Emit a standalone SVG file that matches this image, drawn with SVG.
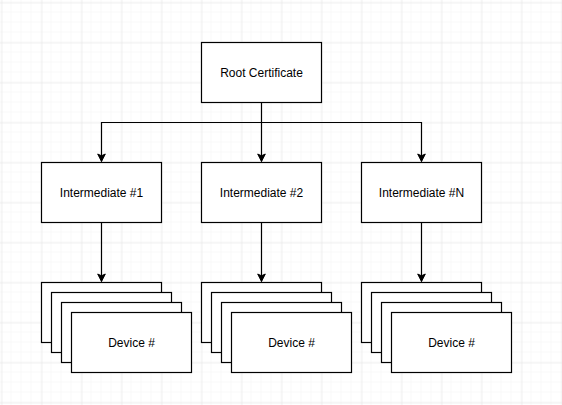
<svg xmlns="http://www.w3.org/2000/svg" width="562" height="405" viewBox="0 0 562 405">
<defs>
<pattern id="minor" x="1.5" y="2.5" width="10" height="10" patternUnits="userSpaceOnUse">
<path d="M10 0V10M0 10H10" fill="none" stroke="#f2f2f2" stroke-width="1"/>
</pattern>
<pattern id="major" x="1.5" y="2.5" width="40" height="40" patternUnits="userSpaceOnUse">
<path d="M0 0V40M0 0H40" fill="none" stroke="#e3e3e3" stroke-width="1"/>
</pattern>
<marker id="arr" markerUnits="userSpaceOnUse" markerWidth="10" markerHeight="10" viewBox="0 0 10 10" refX="9" refY="5" orient="auto">
<path d="M1.5 1.2L9 5L1.5 8.8L3.3 5Z" fill="#000" stroke="#000" stroke-width="1"/>
</marker>
<style>
.b{fill:#fff;stroke:#000;stroke-width:1.2}
.t{font-family:"Liberation Sans",Arial,sans-serif;font-size:12px;fill:#000;text-anchor:middle;dominant-baseline:central}
.c{fill:none;stroke:#000;stroke-width:1.2}
</style>
</defs>
<rect width="562" height="405" fill="#fff"/>
<rect width="562" height="405" fill="url(#minor)"/>
<rect width="562" height="405" fill="url(#major)"/>
<g id="connectors">
<path class="c" d="M261.5 102.5V122.5H101.5V161.5" marker-end="url(#arr)"/>
<path class="c" d="M261.5 122.5V161.5" marker-end="url(#arr)"/>
<path class="c" d="M261.5 122.5H421.5V161.5" marker-end="url(#arr)"/>
<path class="c" d="M101.5 222.5V281.5" marker-end="url(#arr)"/>
<path class="c" d="M261.5 222.5V281.5" marker-end="url(#arr)"/>
<path class="c" d="M421.5 222.5V281.5" marker-end="url(#arr)"/>
</g>
<g id="root"><rect class="b" x="201.5" y="42.5" width="120" height="60"/><text class="t" x="261.5" y="72.5">Root Certificate</text></g>
<g id="int1"><rect class="b" x="41.5" y="162.5" width="120" height="60"/><text class="t" x="101.5" y="192.5">Intermediate #1</text></g>
<g id="int2"><rect class="b" x="201.5" y="162.5" width="120" height="60"/><text class="t" x="261.5" y="192.5">Intermediate #2</text></g>
<g id="intN"><rect class="b" x="361.5" y="162.5" width="120" height="60"/><text class="t" x="421.5" y="192.5">Intermediate #N</text></g>
<g id="dev1">
<rect class="b" x="41.5" y="282.5" width="120" height="60"/>
<rect class="b" x="51.5" y="292.5" width="120" height="60"/>
<rect class="b" x="61.5" y="302.5" width="120" height="60"/>
<rect class="b" x="71.5" y="312.5" width="120" height="60"/>
<text class="t" x="131.5" y="342.5">Device #</text>
</g>
<g id="dev2">
<rect class="b" x="201.5" y="282.5" width="120" height="60"/>
<rect class="b" x="211.5" y="292.5" width="120" height="60"/>
<rect class="b" x="221.5" y="302.5" width="120" height="60"/>
<rect class="b" x="231.5" y="312.5" width="120" height="60"/>
<text class="t" x="291.5" y="342.5">Device #</text>
</g>
<g id="devN">
<rect class="b" x="361.5" y="282.5" width="120" height="60"/>
<rect class="b" x="371.5" y="292.5" width="120" height="60"/>
<rect class="b" x="381.5" y="302.5" width="120" height="60"/>
<rect class="b" x="391.5" y="312.5" width="120" height="60"/>
<text class="t" x="451.5" y="342.5">Device #</text>
</g>
</svg>
